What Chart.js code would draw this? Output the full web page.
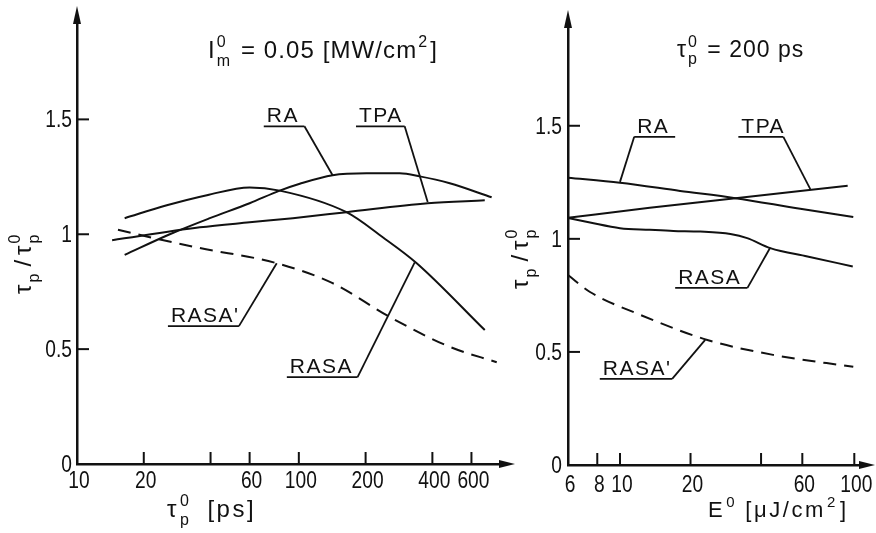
<!DOCTYPE html>
<html><head><meta charset="utf-8">
<script src="https://cdn.jsdelivr.net/npm/chart.js@4.4.1/dist/chart.umd.min.js"></script>
<style>
html,body{margin:0;padding:0;background:#fff;width:876px;height:533px;overflow:hidden;}
#c1{position:absolute;left:0;top:0;width:525px;height:533px;}
#c2{position:absolute;left:505px;top:0;width:371px;height:533px;}
</style></head><body>
<canvas id="c1" width="525" height="533"></canvas>
<canvas id="c2" width="371" height="533"></canvas>
<script>
// ---------- data: left panel (x = tau_p^0 in ps) ----------
const leftRA_x    = [16.4, 26.2, 39.7, 60, 82, 101, 142, 202, 285, 351, 479, 740];
const leftRA_y    = [0.91, 1.00, 1.07, 1.135, 1.19, 1.22, 1.257, 1.265, 1.265, 1.252, 1.222, 1.161];
const leftTPA_x   = [14.4, 35.8, 60, 94, 164, 381, 689];
const leftTPA_y   = [0.974, 1.03, 1.052, 1.07, 1.096, 1.135, 1.148];
const leftRASA_x  = [16.4, 25.4, 38.5, 60, 82, 164, 239, 340, 689];
const leftRASA_y  = [1.07, 1.126, 1.17, 1.204, 1.19, 1.096, 0.987, 0.874, 0.583];
const leftRASAp_x = [15.3, 21.3, 35.8, 79.5, 142, 257, 479, 780];
const leftRASAp_y = [1.02, 0.987, 0.94, 0.874, 0.787, 0.64, 0.51, 0.443];

// ---------- data: right panel (x = E^0 in uJ/cm2) ----------
const rightRA_x    = [6, 10, 18.06, 31.1, 58.8, 99];
const rightRA_y    = [1.27, 1.248, 1.212, 1.18, 1.133, 1.097];
const rightTPA_x   = [6, 13.4, 31.1, 58.8, 93.7];
const rightTPA_y   = [1.093, 1.137, 1.18, 1.212, 1.235];
const rightRASA_x  = [6, 7.45, 10, 13.4, 16.9, 22, 29.6, 34.9, 43.8, 63.1, 98.5];
const rightRASA_y  = [1.092, 1.072, 1.047, 1.04, 1.035, 1.032, 1.021, 1.003, 0.959, 0.922, 0.878];
const rightRASAp_x = [6, 7.45, 12.2, 23.6, 45, 99];
const rightRASAp_y = [0.84, 0.765, 0.664, 0.553, 0.487, 0.434];

// ---------- ticks ----------
const leftXTicks  = [10, 20, 40, 60, 100, 200, 400, 600];
const leftXLabels = ['10', '20', '', '60', '100', '200', '400', '600'];
const rightXTicks  = [6, 8, 10, 20, 40, 60, 100];
const rightXLabels = ['6', '8', '10', '20', '', '60', '100'];
const yTicks  = [0, 0.5, 1, 1.5];
const yLabels = ['0', '0.5', '1', '1.5'];

// ---------- curve labels (anchored in data units) ----------
const leftNotes = [
  {text:'RA',    x0:69.5, x1:106, y:1.47,  ax:142,  ay:1.257, from:'right'},
  {text:'TPA',   x0:181,  x1:300, y:1.47,  ax:381,  ay:1.14,  from:'right'},
  {text:"RASA'", x0:25.7, x1:53.7, y:0.60, ax:79.5, ay:0.874, from:'right'},
  {text:'RASA',  x0:88.3, x1:184, y:0.378, ax:333,  ay:0.878, from:'right'}
];
const rightNotes = [
  {text:'RA',    x0:11.5, x1:17.2, y:1.451, ax:10.0, ay:1.252, from:'left'},
  {text:'TPA',   x0:32,   x1:49.8, y:1.451, ax:64.9, ay:1.22,  from:'right'},
  {text:'RASA',  x0:17.2, x1:35,   y:0.783, ax:43.8, ay:0.962, from:'right'},
  {text:"RASA'", x0:8.2,  x1:16.7, y:0.381, ax:23.1, ay:0.553, from:'right'}
];

const TXTFONT = "'Liberation Sans','DejaVu Sans',sans-serif";
const INK = '#111';

function zip(xs, ys){ return xs.map((x,i)=>({x:x, y:ys[i]})); }

function rich(ctx, parts, x, y, size, fam, sp){
  let cx = x;
  ctx.textBaseline = 'alphabetic';
  ctx.textAlign = 'left';
  ctx.letterSpacing = (sp || 0) + 'px';
  for (const p of parts){
    if (typeof p === 'number'){ cx += p; continue; }
    if (typeof p === 'string'){
      ctx.font = size + 'px ' + fam;
      ctx.fillText(p, cx, y);
      cx += ctx.measureText(p).width;
    } else {
      const s = Math.round(size*0.68);
      ctx.font = s + 'px ' + fam;
      let w = 0;
      if (p.sup){ ctx.fillText(p.sup, cx+1, y - size*0.45); w = Math.max(w, ctx.measureText(p.sup).width); }
      if (p.sub){ ctx.fillText(p.sub, cx+1, y + size*0.32); w = Math.max(w, ctx.measureText(p.sub).width); }
      cx += w + 3;
    }
  }
  ctx.letterSpacing = '0px';
  return cx - x;
}

function narrowText(ctx, s, x, y, align){
  ctx.save();
  ctx.translate(x, y); ctx.scale(0.8, 1);
  ctx.font = '24px ' + TXTFONT; ctx.textAlign = align; ctx.textBaseline = 'alphabetic';
  ctx.fillText(s, 0, 0);
  ctx.restore();
}

function makePlugin(cfg){
  return {
    id: 'deco',
    afterDraw(chart){
      const ctx = chart.ctx, xs = chart.scales.x, ys = chart.scales.y, a = chart.chartArea;
      ctx.save();
      ctx.strokeStyle = INK; ctx.fillStyle = INK;
      // tick marks (inward)
      ctx.lineWidth = 2;
      for (const v of cfg.yt){ if (v <= ys.min) continue;
        const py = ys.getPixelForValue(v);
        ctx.beginPath(); ctx.moveTo(a.left, py); ctx.lineTo(a.left + 12, py); ctx.stroke(); }
      for (const v of cfg.xt){ if (v <= xs.min) continue;
        const px = xs.getPixelForValue(v);
        ctx.beginPath(); ctx.moveTo(px, a.bottom); ctx.lineTo(px, a.bottom - 12); ctx.stroke(); }
      // tick labels (narrow digits)
      cfg.yt.forEach((v, i) => narrowText(ctx, cfg.yl[i], a.left - cfg.yLabGap, ys.getPixelForValue(v) + 8, 'right'));
      cfg.xt.forEach((v, i) => narrowText(ctx, cfg.xl[i], xs.getPixelForValue(v) + 2, a.bottom + cfg.xLabOff, 'center'));
      // axis arrows
      ctx.lineWidth = 2.5;
      const tipY = cfg.yTip, tipX = a.right + cfg.xExt;
      ctx.beginPath(); ctx.moveTo(a.left, a.top); ctx.lineTo(a.left, tipY + 10); ctx.stroke();
      ctx.beginPath(); ctx.moveTo(a.left, tipY); ctx.lineTo(a.left - 4, tipY + 18); ctx.lineTo(a.left + 4, tipY + 18); ctx.closePath(); ctx.fill();
      ctx.beginPath(); ctx.moveTo(a.right, a.bottom); ctx.lineTo(tipX - 8, a.bottom); ctx.stroke();
      ctx.beginPath(); ctx.moveTo(tipX, a.bottom); ctx.lineTo(tipX - 16, a.bottom - 4); ctx.lineTo(tipX - 16, a.bottom + 4); ctx.closePath(); ctx.fill();
      // curve labels
      ctx.lineWidth = 1.8;
      for (const n of cfg.notes){
        const x0 = xs.getPixelForValue(n.x0), x1 = xs.getPixelForValue(n.x1), y = ys.getPixelForValue(n.y);
        const ax = xs.getPixelForValue(n.ax), ay = ys.getPixelForValue(n.ay);
        const sx = n.from === 'left' ? x0 : x1;
        ctx.beginPath(); ctx.moveTo(x0, y); ctx.lineTo(x1, y); ctx.stroke();
        ctx.beginPath(); ctx.moveTo(sx, y); ctx.lineTo(ax, ay); ctx.stroke();
        ctx.font = '21px ' + TXTFONT; ctx.textAlign = 'left'; ctx.textBaseline = 'alphabetic';
        ctx.letterSpacing = '1.5px';
        ctx.fillText(n.text, x0 + 3, y - 4);
        ctx.letterSpacing = '0px';
      }
      // titles
      for (const t of cfg.texts){
        if (t.rot){
          ctx.save(); ctx.translate(t.x, t.y); ctx.rotate(-Math.PI/2);
          rich(ctx, t.parts, 0, 0, t.size, TXTFONT, t.sp); ctx.restore();
        } else {
          rich(ctx, t.parts, t.x, t.y, t.size, TXTFONT, t.sp);
        }
      }
      ctx.restore();
    }
  };
}

function ds(label, xs, ys, dashed){
  return {label, data: zip(xs, ys), borderColor: INK, borderWidth: 2, pointRadius: 0,
    fill: false, cubicInterpolationMode: 'monotone', borderDash: dashed ? [13, 8] : []};
}

function makeChart(id, o){
  return new Chart(document.getElementById(id), {
    type: 'line',
    data: {datasets: o.sets},
    options: {
      responsive: false, animation: false, events: [],
      layout: {padding: {top: o.padTop, right: o.padRight, left: 0, bottom: 0}},
      plugins: {legend: {display: false}, tooltip: {enabled: false}},
      scales: {
        x: {type: 'logarithmic', min: o.xmin, max: o.xmax,
          grid: {display: false, drawTicks: false},
          border: {display: true, color: INK, width: 2.5},
          afterBuildTicks: s => { s.ticks = o.deco.xt.map(v => ({value: v})); },
          afterFit: s => { s.height = o.xH; },
          ticks: {display: false}},
        y: {type: 'linear', min: 0, max: 1.95,
          grid: {display: false, drawTicks: false},
          border: {display: true, color: INK, width: 2.5},
          afterBuildTicks: s => { s.ticks = yTicks.map(v => ({value: v})); },
          afterFit: s => { s.width = o.yW; },
          ticks: {display: false}}
      }
    },
    plugins: [makePlugin(o.deco)]
  });
}

const yTitle = ['τ', {sub:'p'}, 4, '/', 4, 'τ', {sup:'0', sub:'p'}];

makeChart('c1', {
  sets: [ds('RA', leftRA_x, leftRA_y), ds('TPA', leftTPA_x, leftTPA_y),
         ds('RASA', leftRASA_x, leftRASA_y), ds("RASA'", leftRASAp_x, leftRASAp_y, true)],
  xmin: 10, xmax: 850,
  padTop: 16, padRight: 20, xH: 69, yW: 77,
  deco: {yt: yTicks, yl: yLabels, xt: leftXTicks, xl: leftXLabels, yLabGap: 5, xLabOff: 24,
    notes: leftNotes, yTip: 6, xExt: 10,
    texts: [
      {parts: ['I', {sup:'0', sub:'m'}, ' = 0.05 [MW/cm', {sup:'2'}, ']'], x: 208, y: 58, size: 24, sp: 1.1},
      {parts: ['τ', {sup:'0', sub:'p'}, 14, '[ps]'], x: 167, y: 517, size: 24, sp: 2.5},
      {parts: yTitle, x: 31, y: 294, size: 24, sp: 1, rot: true}
    ]}
});

makeChart('c2', {
  sets: [ds('RA', rightRA_x, rightRA_y), ds('TPA', rightTPA_x, rightTPA_y),
         ds('RASA', rightRASA_x, rightRASA_y), ds("RASA'", rightRASAp_x, rightRASAp_y, true)],
  xmin: 6, xmax: 110,
  padTop: 24, padRight: 12, xH: 68, yW: 63,
  deco: {yt: yTicks, yl: yLabels, xt: rightXTicks, xl: rightXLabels, yLabGap: 6, xLabOff: 27,
    notes: rightNotes, yTip: 10, xExt: 11,
    texts: [
      {parts: ['τ', {sup:'0', sub:'p'}, ' = 200 ps'], x: 172, y: 57, size: 23, sp: 1},
      {parts: ['E', {sup:'0'}, 6, '[μJ/cm', {sup:'2'}, ']'], x: 203, y: 517, size: 22, sp: 2.6},
      {parts: yTitle, x: 23, y: 289, size: 24, sp: 1, rot: true}
    ]}
});
</script>
</body></html>
